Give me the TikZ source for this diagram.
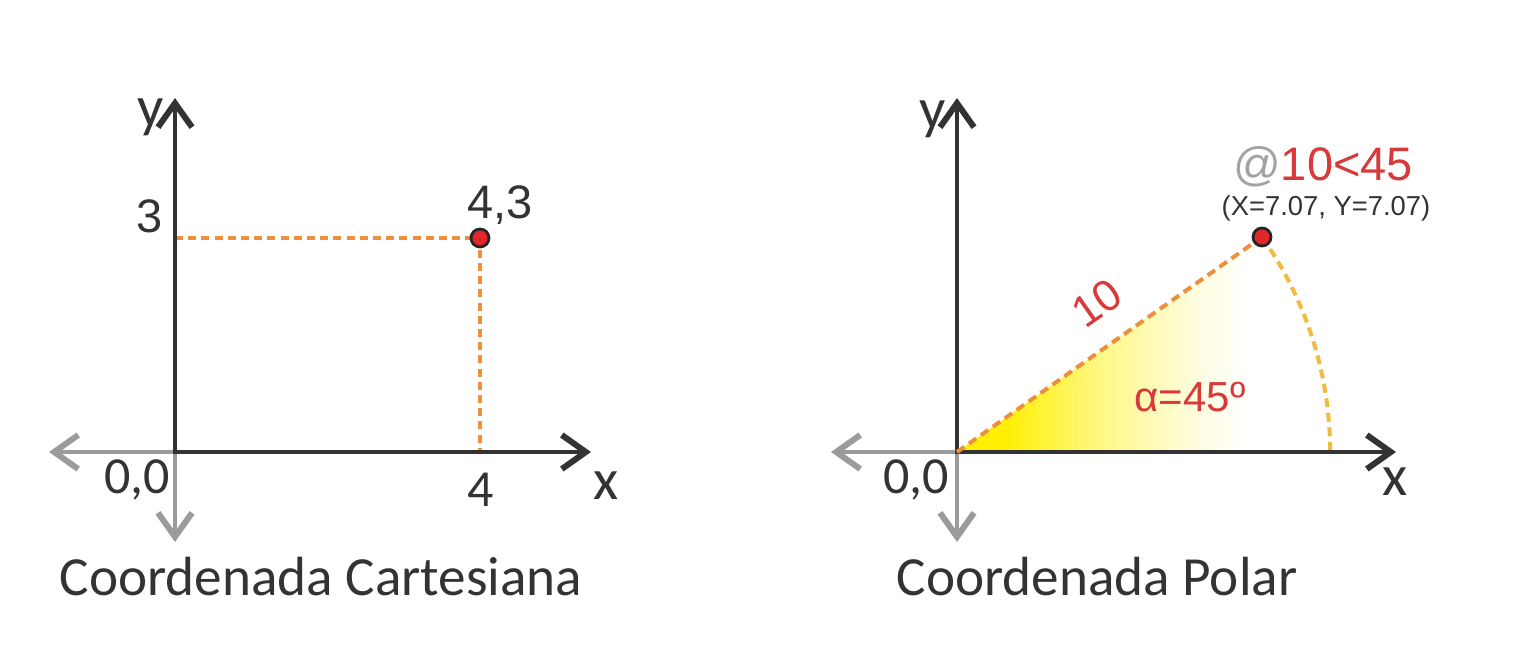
\documentclass[tikz,border=0pt]{standalone}
\usepackage{fontspec}
\setmainfont{Liberation Sans}
\newfontfamily\calib{Carlito}
\usetikzlibrary{arrows.meta}
\definecolor{axiscol}{HTML}{333333}
\definecolor{grayax}{HTML}{9B9B9B}
\definecolor{dashor}{HTML}{EE8F3B}
\definecolor{arcyel}{HTML}{F1BB3F}
\definecolor{ptred}{HTML}{E3262A}
\definecolor{txtred}{HTML}{D8393A}
\definecolor{txt}{HTML}{333333}
\definecolor{atgray}{HTML}{A3A3A3}
\definecolor{wy}{HTML}{FFEF00}
\pgfdeclarehorizontalshading{wedge}{100bp}{color(0bp)=(wy); color(31bp)=(wy); color(45bp)=(wy!45!white); color(56bp)=(wy!15!white); color(64bp)=(white); color(100bp)=(white)}
\tikzset{
  barb/.tip={Straight Barb[length=12pt,width=17pt,line width=3pt]},
}
\begin{document}
\begin{tikzpicture}[x=0.5pt,y=-0.5pt,
  axisline/.style={draw=axiscol, line width=2pt, barb-barb},
  grayline/.style={draw=grayax, line width=2pt, barb-barb},
  guide/.style={draw=dashor, line width=1.6pt, dash pattern=on 4pt off 2.6pt},
  guidetwo/.style={draw=dashor, line width=2pt, dash pattern=on 4.5pt off 2.8pt},
  arcdash/.style={draw=arcyel, line width=2pt, dash pattern=on 4.5pt off 2.8pt},
  ptmark/.style={circle, fill=ptred, draw=black!85, line width=1.4pt, minimum size=9pt, inner sep=0pt},
  lab/.style={text=txt, inner sep=0pt, font=\fontsize{23.5}{28}\selectfont},
  clab/.style={text=txt, inner sep=0pt, font=\calib\fontsize{26}{30}\selectfont},
  axlab/.style={text=txt, inner sep=0pt, font=\calib\fontsize{29}{34}\selectfont},
  rlab/.style={text=txtred, inner sep=0pt, font=\fontsize{22}{26}\selectfont},
  caption/.style={text=txt, inner sep=0pt, anchor=base, font=\calib\fontsize{27.6}{33}\selectfont},
]
\useasboundingbox (0,0) rectangle (1513,659);

% ---------- Cartesian ----------
\coordinate (O1) at (175,452);
\coordinate (Y1) at (175,98);
\coordinate (X1) at (591,452);
\coordinate (L1) at (49,452);
\coordinate (D1) at (175,542);
\coordinate (H1) at (175,238);
\coordinate (C1) at (480,238);
\coordinate (V1) at (480,452);

\draw[guide] (H1) -- (C1) -- (V1);
\draw[grayline] (L1) -- (O1) -- (D1);
\draw[axisline] (Y1) -- (O1) -- (X1);
\node[ptmark] (P1) at (C1) {};

\node[lab] (t3) at (150,216) {3};
\node[lab] (t43) at (500,205) {4,3};
\node[axlab] (ty1) at (151,117) {y};
\node[clab] (t001) at (137,480) {0,0};
\node[clab] (t4) at (481,490) {4};
\node[axlab] (tx1) at (606,486) {x};
\node[caption] (cap1) at (321,595) {Coordenada Cartesiana};

% ---------- Polar ----------
\coordinate (O2) at (957,452);
\coordinate (Y2) at (957,98);
\coordinate (X2) at (1396,452);
\coordinate (L2) at (831,452);
\coordinate (D2) at (957,542);
\coordinate (C2) at (1262,237);

\shade[shading=wedge] (O2) -- (C2) arc[start angle=-35.18, end angle=0, radius=373] -- cycle;
\draw[arcdash] (C2) arc[start angle=-35.18, end angle=0, radius=373];
\draw[grayline] (L2) -- (O2) -- (D2);
\draw[axisline] (Y2) -- (O2) -- (X2);
\draw[guidetwo] (O2) -- (C2);
\node[ptmark] (P2) at (C2) {};

\node[rlab, rotate=35] (t10) at (1097,303) {10};
\node[rlab, font=\fontsize{21}{25}\selectfont] (talpha) at (1190,397) {α=45º};
\node[rlab, anchor=base, font=\fontsize{23.5}{28}\selectfont] (tpolar) at (1323,180) {\textcolor{atgray}{@}10<45};
\node[lab, anchor=base, font=\fontsize{13.7}{16}\selectfont] (txy) at (1326,215) {(X=7.07, Y=7.07)};
\node[axlab] (ty2) at (933,119) {y};
\node[clab] (t002) at (916,480) {0,0};
\node[axlab] (tx2) at (1395,482) {x};
\node[caption] (cap2) at (1097,595) {Coordenada Polar};
\end{tikzpicture}
\end{document}
